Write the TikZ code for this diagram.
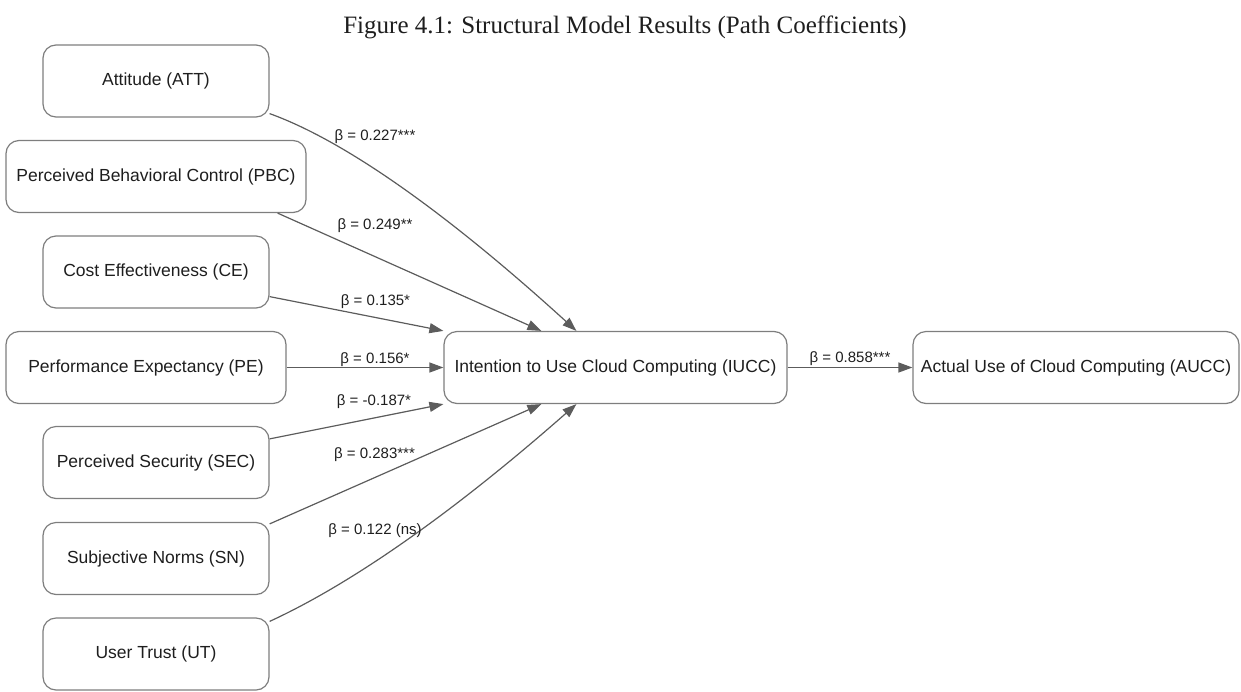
\documentclass[tikz,border=0pt]{standalone}
\usepackage{fontspec}
\setmainfont{Liberation Sans}
\newfontfamily\titlefont{Liberation Serif}
\usetikzlibrary{arrows.meta}
\definecolor{boxline}{HTML}{7E7E7E}
\definecolor{edgeline}{HTML}{5C5C5C}
\definecolor{ink}{HTML}{1E1E1E}
\begin{document}
\begin{tikzpicture}[x=1pt,y=-1pt,
  construct/.style={draw=boxline, line width=1.2pt, rounded corners=13pt,
    minimum height=72pt, inner sep=0pt, text=ink,
    font=\fontsize{17.5}{20}\selectfont},
  link/.style={draw=edgeline, line width=1.2pt,
    -{Triangle[length=14pt,width=10pt]}},
  coef/.style={anchor=base, inner sep=0pt, text=ink,
    font=\fontsize{15}{18}\selectfont}]
\useasboundingbox (0,0) rectangle (1241,691);

% title
\node[anchor=base, inner sep=0pt, text=ink,
      font=\titlefont\fontsize{25}{30}\selectfont] (title) at (625,33)
  {Figure 4.1: Structural Model Results (Path Coefficients)};

% exogenous constructs
\node[construct, minimum width=226pt] (att) at (156,81) {Attitude (ATT)};
\node[construct, minimum width=300pt] (pbc) at (156,176.5) {Perceived Behavioral Control (PBC)};
\node[construct, minimum width=226pt] (ce)  at (156,272) {Cost Effectiveness (CE)};
\node[construct, minimum width=280pt] (pe)  at (146,367.5) {Performance Expectancy (PE)};
\node[construct, minimum width=226pt] (sec) at (156,462.5) {Perceived Security (SEC)};
\node[construct, minimum width=226pt] (sn)  at (156,558.5) {Subjective Norms (SN)};
\node[construct, minimum width=226pt] (ut)  at (156,654) {User Trust (UT)};

% endogenous constructs
\node[construct, minimum width=343pt] (iucc) at (615.5,367.5) {Intention to Use Cloud Computing (IUCC)};
\node[construct, minimum width=326pt] (aucc) at (1076,367.5) {Actual Use of Cloud Computing (AUCC)};

% structural paths
\draw[link] ([yshift=4pt]att.south east)
  .. controls +(75.7,27.3) and +(-129,-117.4) .. ([xshift=133pt]iucc.north west);
\draw[link] ([xshift=-29pt]pbc.south east) -- ([xshift=98pt]iucc.north west);
\draw[link] ([yshift=12pt]ce.south east) -- (iucc.north west);
\draw[link] (pe.east) -- (iucc.west);
\draw[link] ([yshift=-13pt]sec.north east) -- (iucc.south west);
\draw[link] ([yshift=-2pt]sn.north east) -- ([xshift=98pt]iucc.south west);
\draw[link] ([yshift=-4pt]ut.north east)
  .. controls +(83.7,-38.5) and +(-121.5,106.9) .. ([xshift=133pt]iucc.south west);
\draw[link] (iucc.east) -- (aucc.west);

% path coefficients
\node[coef] (b-att)  at (375,140.5) {β = 0.227***};
\node[coef] (b-pbc)  at (375,229.5) {β = 0.249**};
\node[coef] (b-ce)   at (375.5,305.5) {β = 0.135*};
\node[coef] (b-pe)   at (375,363.5) {β = 0.156*};
\node[coef] (b-sec)  at (374,405.5) {β = -0.187*};
\node[coef] (b-sn)   at (374.5,458.5) {β = 0.283***};
\node[coef] (b-ut)   at (375,534.5) {β = 0.122 (ns)};
\node[coef] (b-iucc) at (850,362.5) {β = 0.858***};
\end{tikzpicture}
\end{document}
